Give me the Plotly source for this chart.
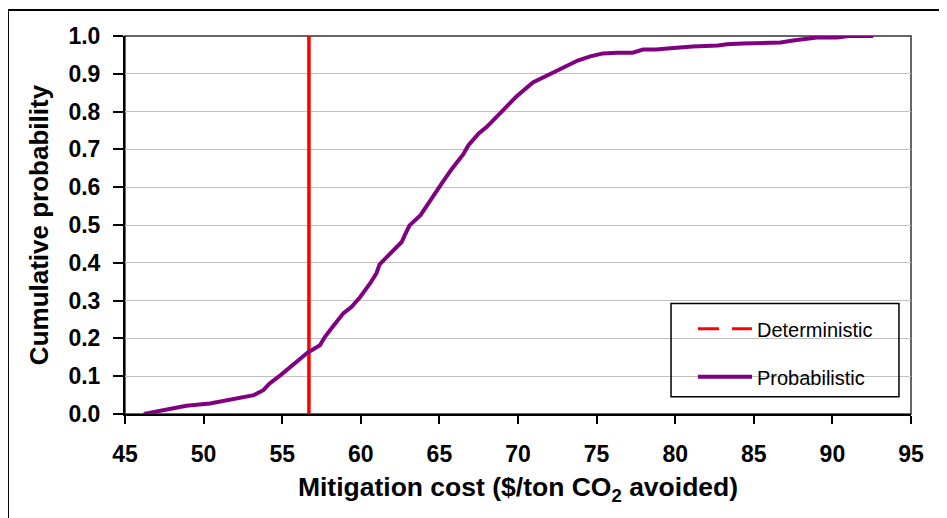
import plotly.graph_objects as go

# Probabilistic cumulative distribution
cost = [46.2, 47.0, 47.65, 48.9, 50.4, 51.9, 53.2, 53.8, 54.2, 54.9, 55.8, 56.6,
        57.4, 57.7, 58.2, 58.9, 59.4, 59.95, 60.6, 61.0, 61.2, 61.9, 62.6, 62.8,
        63.1, 63.8, 64.4, 65.15, 65.8, 66.5, 66.85, 67.5, 68.0, 68.5, 69.05, 69.9,
        70.95, 72.0, 72.5, 73.0, 73.8, 74.6, 75.4, 76.3, 77.3, 77.95, 78.8, 79.5,
        80.3, 81.1, 82.7, 83.3, 84.3, 85.6, 86.7, 87.5, 89.0, 90.3, 91.0, 92.6]
prob = [0.000, 0.007, 0.012, 0.022, 0.028, 0.041, 0.050, 0.063, 0.081, 0.103, 0.133, 0.162,
        0.182, 0.203, 0.230, 0.267, 0.283, 0.309, 0.346, 0.373, 0.396, 0.427, 0.455, 0.473,
        0.499, 0.526, 0.565, 0.610, 0.649, 0.686, 0.711, 0.742, 0.759, 0.780, 0.806, 0.840,
        0.877, 0.898, 0.909, 0.919, 0.935, 0.946, 0.954, 0.956, 0.956, 0.964, 0.964, 0.967,
        0.970, 0.972, 0.975, 0.978, 0.980, 0.983, 0.983, 0.988, 0.996, 0.996, 1.000, 1.000]

# Deterministic value
det_cost = [56.7, 56.7]
det_prob = [0.0, 1.0]

x_ticks = [45, 50, 55, 60, 65, 70, 75, 80, 85, 90, 95]
y_ticks = [0.0, 0.1, 0.2, 0.3, 0.4, 0.5, 0.6, 0.7, 0.8, 0.9, 1.0]

FONT = "Liberation Sans, Arial, sans-serif"

fig = go.Figure()
# Deterministic vertical line (solid in plot)
fig.add_trace(go.Scatter(x=det_cost, y=det_prob, mode="lines",
                         line=dict(color="#FF0000", width=3.5),
                         showlegend=False, hoverinfo="skip"))
# Legend entry for deterministic (dashed)
fig.add_trace(go.Scatter(x=[None], y=[None], mode="lines", name="Deterministic",
                         line=dict(color="#FF0000", width=3, dash="21px,13px"),
                         legendgroup="d"))
fig.add_trace(go.Scatter(x=cost, y=prob, mode="lines", name="Probabilistic",
                         line=dict(color="#800080", width=4), cliponaxis=False,
                         legendgroup="p"))

fig.update_layout(
    width=947, height=518,
    margin=dict(l=117, r=44, t=27.5, b=112),
    paper_bgcolor="white", plot_bgcolor="white",
    font=dict(family=FONT, color="black"),
    showlegend=True,
    legend=dict(x=0.7226, y=0.277, xanchor="left", yanchor="top",
                bgcolor="rgba(0,0,0,0)", borderwidth=0,
                font=dict(family=FONT, size=20, color="black"),
                itemwidth=54, tracegroupgap=19, traceorder="grouped"),
    shapes=[
        # plot area frame (top/right)
        dict(type="rect", xref="paper", yref="paper", x0=0, x1=1, y0=0, y1=1,
             line=dict(color="#333333", width=1.5), layer="below"),
        # legend box
        dict(type="rect", xref="paper", yref="paper", x0=0.6947, x1=0.9847,
             y0=0.0457, y1=0.2925, line=dict(color="black", width=1.5),
             fillcolor="rgba(0,0,0,0)", layer="above"),
        # outer chart border
        dict(type="rect", xref="paper", yref="paper", x0=-0.1489, x1=1.2,
             y0=-0.5, y1=1.069, line=dict(color="black", width=2), layer="above"),
    ],
)

fig.update_xaxes(range=[45, 95], tickvals=x_ticks, ticktext=[str(v) for v in x_ticks],
                 showgrid=False, zeroline=False,
                 showline=True, linecolor="black", linewidth=2,
                 ticks="outside", ticklen=8, tickwidth=2, tickcolor="black",
                 ticklabelstandoff=10,
                 tickfont=dict(family=FONT, size=23, weight="bold"),
                 title=dict(text="Mitigation cost ($/ton CO<sub>2</sub> avoided)",
                            font=dict(family=FONT, size=26.5, weight="bold"),
                            standoff=12))
fig.update_yaxes(range=[0, 1], tickvals=y_ticks, ticktext=[f"{v:.1f}" for v in y_ticks],
                 showgrid=True, gridcolor="#C0C0C0", gridwidth=1.2, zeroline=False,
                 showline=True, linecolor="black", linewidth=2,
                 ticks="outside", ticklen=10, tickwidth=2, tickcolor="black",
                 ticklabelstandoff=8,
                 tickfont=dict(family=FONT, size=23, weight="bold"),
                 title=dict(text="Cumulative probability",
                            font=dict(family=FONT, size=26, weight="bold"),
                            standoff=12))

fig.write_html("out.html")
